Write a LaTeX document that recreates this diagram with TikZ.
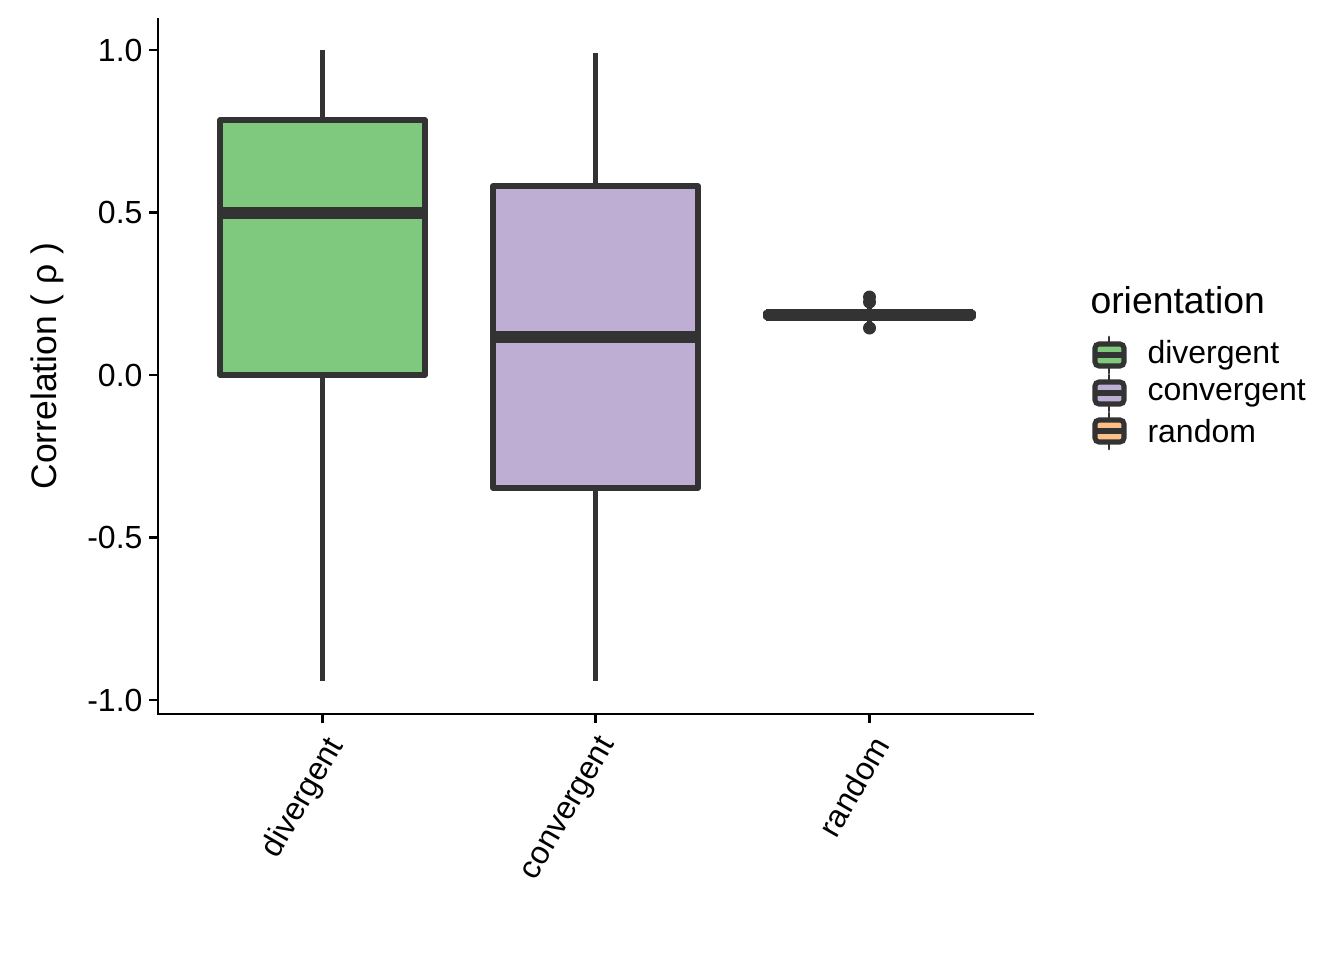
\documentclass[tikz,border=0pt]{standalone}
\usepackage{fontspec}
\setmainfont{Liberation Sans}
\definecolor{boxline}{HTML}{333333}
\definecolor{divfill}{HTML}{7FC97F}
\definecolor{convfill}{HTML}{BEAED4}
\definecolor{randfill}{HTML}{FDC086}
\begin{document}
\begin{tikzpicture}[x=0.375pt,y=-0.375pt,
    whisker/.style={draw=boxline,line width=2pt},
    boxbody/.style={draw=boxline,line width=2pt,line join=round},
    median/.style={draw=boxline,line width=4.4pt},
    axisline/.style={draw=black,line width=1.1pt},
    ticklabel/.style={font=\fontsize{12}{14}\selectfont,text=black,inner sep=0pt},
    keybox/.style={draw=boxline,line width=1.9pt,rounded corners=1.5pt}]
    \useasboundingbox (0,0) rectangle (1344,960);
    % axes
    \draw[axisline] (158,18) -- (158,714) -- (1034,714);
    \foreach \yy/\lab in {50/1.0,212.5/0.5,375/0.0,537.5/-0.5,700/-1.0}{
        \draw[axisline] (149,\yy) -- (158,\yy);
        \node[ticklabel,anchor=east] at (143,\yy) {\lab};
    }
    \foreach \xx/\lab in {322.5/divergent,595.5/convergent,869.5/random}{
        \draw[axisline] (\xx,714) -- (\xx,723);
        \node[ticklabel,anchor=north east,rotate=60] at (\xx+1,733) {\lab};
    }
    \node[font=\fontsize{13.3}{16}\selectfont,rotate=90] (ytitle) at (47,366) {Correlation ( ρ )};
    % divergent
    \draw[whisker] (322.5,50) -- (322.5,120);
    \draw[whisker] (322.5,375) -- (322.5,681);
    \draw[boxbody,fill=divfill] (220,120) rectangle (425,375);
    \draw[median] (220,213) -- (425,213);
    % convergent
    \draw[whisker] (595.5,53) -- (595.5,186);
    \draw[whisker] (595.5,488) -- (595.5,681);
    \draw[boxbody,fill=convfill] (493,186) rectangle (698,488);
    \draw[median] (493,337) -- (698,337);
    % random
    \draw[whisker] (869.5,298) -- (869.5,328);
    \draw[boxbody,fill=randfill] (766,312.5) rectangle (973,317);
    \draw[median] (766,314.8) -- (973,314.8);
    \fill[boxline] (869.5,297) circle (6.5) (869.5,302) circle (6.5) (869.5,328) circle (6.5);
    % legend
    \node[font=\fontsize{14}{17}\selectfont,anchor=west,inner sep=0pt] (legtitle) at (1090,300) {orientation};
    \foreach \ky/\col/\lab in {355/divfill/divergent,393/convfill/convergent,431/randfill/random}{
        \draw[boxline,line width=1.1pt,line cap=round] (1109,\ky-18) -- (1109,\ky+18);
        \draw[keybox,fill=\col] (1095,\ky-11) rectangle (1124,\ky+11);
        \draw[boxline,line width=1.9pt] (1095,\ky) -- (1124,\ky);
        \node[font=\fontsize{12}{14}\selectfont,anchor=west,inner sep=0pt] at (1147,\ky) {\lab};
    }
\end{tikzpicture}
\end{document}
